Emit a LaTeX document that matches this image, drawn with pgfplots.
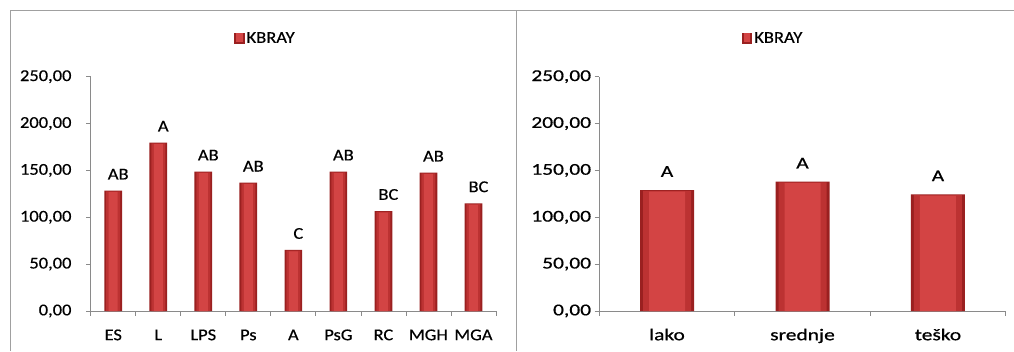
\documentclass[border=0pt]{standalone}
\usepackage{pgfplots}
\pgfplotsset{compat=1.18}
\usepackage{fontspec}
\setmainfont{Carlito}[FakeStretch=1.12, FakeBold=0.4]
\newfontfamily\widefont{Carlito}[FakeStretch=1.3, FakeBold=0.7]
\definecolor{bardark}{HTML}{9A2020}
\definecolor{barmid}{HTML}{BC3232}
\definecolor{barlight}{HTML}{D34444}
\definecolor{axgray}{HTML}{8A8A8A}
\definecolor{framegray}{HTML}{A0A0A0}
\pgfplotsset{kb/.style={
  scale only axis, height=234.3pt, ymin=0, ymax=250,
  axis x line=bottom, axis y line=left,
  axis line style={axgray, -, line width=0.8pt},
  ytick={0,50,...,250},
  tick align=outside, major tick length=4.7pt, minor tick length=4.5pt,
  tick style={axgray, line width=0.8pt},
  every major x tick/.style={draw=none},
  yticklabel style={/pgf/number format/fixed, /pgf/number format/fixed zerofill,
    /pgf/number format/precision=2, /pgf/number format/use comma, /pgf/number format/1000 sep={}},
  /pgf/number format/assume math mode=true,
  xticklabel style={anchor=base, inner sep=0pt, yshift=-24.5pt},
  legend style={draw=none, fill=none, inner sep=0pt, outer sep=0pt, nodes={inner sep=2pt}},
  legend image code/.code={\fill[bardark] (0pt,-5.3pt) rectangle (10.6pt,5.3pt);
     \fill[barlight] (2pt,-3.3pt) rectangle (8.6pt,5.3pt);},
  every node near coord/.append style={anchor=base, inner sep=0pt, yshift=12.7pt, black},
}}
\begin{document}
\begin{tikzpicture}[font=\fontsize{16.5}{19}\selectfont]
\path[use as bounding box] (0pt,-351pt) rectangle (1014pt,0pt);
\draw[framegray, line width=1pt] (10pt,-351pt) -- (10pt,-10.7pt) -- (1014pt,-10.7pt);
\draw[framegray, line width=1pt] (516pt,-10.7pt) -- (516pt,-351pt);
\begin{axis}[kb, at={(90.7pt,-311pt)}, anchor=south west, width=405.3pt,
  xmin=-0.5, xmax=8.5, xtick={0,...,8},
  xticklabels={ES,L,LPS,Ps,A,PsG,RC,MGH,MGA},
  minor xtick={-0.5,0.5,...,8.5},
  yticklabel style={xshift=-11pt},
  legend style={at={(0.3536,1.164)}, anchor=west},
  every node near coord/.append style={xshift=5pt}]
\addplot[ybar, bar width=17.7pt, draw=none, fill=bardark]
  coordinates {(0,128.4) (1,179.6) (2,148.7) (3,136.9) (4,65.1) (5,148.7) (6,106.7) (7,147.6) (8,114.9)};
\addlegendentry{KBRAY}
\addplot[ybar, bar width=14pt, draw=none, fill=barmid, forget plot]
  coordinates {(0,127.6) (1,178.8) (2,147.9) (3,136.1) (4,64.3) (5,147.9) (6,105.9) (7,146.8) (8,114.1)};
\addplot[ybar, bar width=9pt, draw=none, fill=barlight, forget plot,
  nodes near coords, point meta=explicit symbolic]
  coordinates {(0,126.8)[AB] (1,178.0)[A] (2,147.1)[AB] (3,135.3)[AB] (4,63.5)[C] (5,147.1)[AB] (6,105.1)[BC] (7,146.0)[AB] (8,113.3)[BC]};
\end{axis}
\begin{axis}[kb, at={(599.3pt,-311pt)}, anchor=south west, width=406.4pt,
  xmin=-0.5, xmax=2.5, xtick={0,1,2},
  xticklabels={lako,srednje,teško},
  minor xtick={-0.5,0.5,...,2.5},
  ticklabel style={font=\fontsize{16.5}{19}\widefont},
  legend style={at={(0.3504,1.164)}, anchor=west},
  every node near coord/.append style={font=\fontsize{16.5}{19}\widefont, yshift=2pt}]
\addplot[ybar, bar width=54pt, draw=none, fill=bardark]
  coordinates {(0,129.1) (1,138.0) (2,124.5)};
\addlegendentry{KBRAY}
\addplot[ybar, bar width=48pt, draw=none, fill=barmid, forget plot]
  coordinates {(0,128.3) (1,137.2) (2,123.7)};
\addplot[ybar, bar width=36pt, draw=none, fill=barlight, forget plot,
  nodes near coords, point meta=explicit symbolic]
  coordinates {(0,127.5)[A] (1,136.4)[A] (2,122.9)[A]};
\end{axis}
\end{tikzpicture}
\end{document}
